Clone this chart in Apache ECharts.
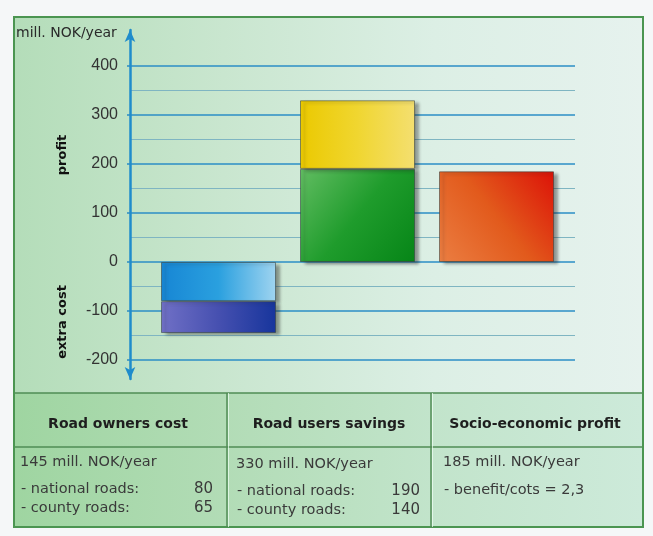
<!DOCTYPE html>
<html>
<head>
<meta charset="utf-8">
<script src="https://cdn.jsdelivr.net/npm/echarts@6/dist/echarts.min.js"></script>
<style>
html,body{margin:0;padding:0;background:#f5f7f8;}
#c{width:653px;height:536px;}
</style>
</head>
<body>
<div id="c"></div>
<script>
// ---- data ----
var categories = ['Road owners cost', 'Road users savings', 'Socio-economic profit'];
var nationalRoads = [-80, 190, null];   // lower segment of each stacked bar
var countyRoads = [-65, 140, null];     // upper segment
var socioProfit = [null, null, 185];
var yTicks = [-200, -100, 0, 100, 200, 300, 400];
var unitLabel = 'mill. NOK/year';
var profitLabel = 'profit';
var costLabel = 'extra cost';
var tableTotals = ['145 mill. NOK/year', '330 mill. NOK/year', '185 mill. NOK/year'];
var tableRowLabels = ['- national roads:', '- county roads:'];
var tableRowValues = [['80', '65'], ['190', '140'], null];
var ratioText = '- benefit/cots = 2,3';

// ---- styles ----
function grad(x, y, x2, y2, stops) {
  return {type: 'linear', x: x, y: y, x2: x2, y2: y2,
    colorStops: stops.map(function (c, i) { return {offset: i / (stops.length - 1), color: c}; })};
}
var nationalColors = [grad(0, 0, 1, 0, ['#1786d4', '#2aa0df', '#9fd4f0']),
                      grad(0, 0, 1, 1, ['#62bd62', '#1f9c2c', '#068517'])];
var countyColors = [grad(0, 0, 1, 0, ['#7070c6', '#4650b0', '#17359c']),
                    grad(0, 0, 1, 0, ['#ebc900', '#f0d630', '#f4df70'])];
var socioColors = [null, null, grad(0, 1, 1, 0, ['#eb7e42', '#e25a1c', '#dc1208'])];

var barBase = {
  borderColor: 'rgba(50,60,60,0.55)', borderWidth: 1,
  shadowColor: 'rgba(40,40,40,0.45)', shadowBlur: 3, shadowOffsetX: 4, shadowOffsetY: 2
};
function seriesData(vals, colors) {
  return vals.map(function (v, i) {
    if (v === null) return '-';
    return {value: v, itemStyle: Object.assign({color: colors[i]}, barBase)};
  });
}

var font = 'DejaVu Sans, Arial, sans-serif';
var txt = '#3a3a3a';

// ---- table graphics ----
var colX = [15, 227, 431, 643];
var tableTop = 393, headDiv = 447, tableBottom = 527;
var g = [];
g.push({type: 'rect', z: -20, shape: {x: 14, y: 17, width: 629, height: 510},
  style: {fill: grad(0, 0, 1, 0, ['#b4ddb9', '#c9e6cf', '#dcefe5', '#e6f2ee']), stroke: '#4b9551', lineWidth: 2}});
g.push({type: 'rect', z: -19, shape: {x: 15, y: tableTop, width: 627, height: tableBottom - tableTop},
  style: {fill: grad(0, 0, 1, 0, ['#9fd5a1', '#b2dcb6', '#c2e4cb', '#cdeada']), stroke: null}});
g.push({type: 'line', z: 5, shape: {x1: 15, y1: tableTop, x2: 642, y2: tableTop}, style: {stroke: '#4f8c55', lineWidth: 1.5}});
g.push({type: 'line', z: 5, shape: {x1: 15, y1: headDiv, x2: 642, y2: headDiv}, style: {stroke: '#4f8c55', lineWidth: 1.5}});
g.push({type: 'line', z: 5, shape: {x1: 15, y1: tableBottom, x2: 642, y2: tableBottom}, style: {stroke: '#4b9551', lineWidth: 2}});
[1, 2].forEach(function (k) {
  g.push({type: 'line', z: 5, shape: {x1: colX[k], y1: tableTop, x2: colX[k], y2: tableBottom}, style: {stroke: '#4f8c55', lineWidth: 1.5}});
  g.push({type: 'line', z: 5, shape: {x1: colX[k] + 1.5, y1: tableTop, x2: colX[k] + 1.5, y2: tableBottom}, style: {stroke: 'rgba(240,255,245,0.7)', lineWidth: 1}});
});
var headCx = [118, 329, 535];
categories.forEach(function (c, i) {
  g.push({type: 'text', z: 6, x: headCx[i], y: 424, style: {text: c, fill: '#1e1e1e', font: 'bold 14px ' + font, align: 'center', verticalAlign: 'middle'}});
});
var totX = [20, 236, 443];
var totY = [462, 464, 462];
var bodyFont = '14.5px ' + font;
tableTotals.forEach(function (t, i) {
  g.push({type: 'text', z: 6, x: totX[i], y: totY[i], style: {text: t, fill: txt, font: bodyFont, verticalAlign: 'middle'}});
});
var rowY = [[489, 508], [491, 510]];
var numRight = [213, 420];
[0, 1].forEach(function (c) {
  tableRowLabels.forEach(function (lab, r) {
    g.push({type: 'text', z: 6, x: totX[c] + 1, y: rowY[c][r], style: {text: lab, fill: txt, font: bodyFont, verticalAlign: 'middle'}});
    g.push({type: 'text', z: 6, x: numRight[c], y: rowY[c][r], style: {text: tableRowValues[c][r], fill: txt, font: '15px ' + font, align: 'right', verticalAlign: 'middle'}});
  });
});
g.push({type: 'text', z: 6, x: 444, y: 490, style: {text: ratioText, fill: txt, font: bodyFont, verticalAlign: 'middle'}});
// axis texts
g.push({type: 'text', z: 6, x: 16, y: 33, style: {text: unitLabel, fill: '#2a2a2a', font: '14px ' + font, verticalAlign: 'middle'}});
g.push({type: 'text', z: 6, x: 63, y: 155, rotation: Math.PI / 2, style: {text: profitLabel, fill: '#111', font: 'bold 13px ' + font, align: 'center', verticalAlign: 'middle'}});
g.push({type: 'text', z: 6, x: 63, y: 322, rotation: Math.PI / 2, style: {text: costLabel, fill: '#111', font: 'bold 13px ' + font, align: 'center', verticalAlign: 'middle'}});

var yMin = yTicks[0], yMax = yTicks[yTicks.length - 1];
var chart = echarts.init(document.getElementById('c'), null, {renderer: 'canvas'});
chart.setOption({
  animation: false,
  backgroundColor: 'transparent',
  graphic: g,
  grid: [
    {left: 149, right: 87, top: 66, bottom: 176},   // bars
    {left: 130, right: 78, top: 66, bottom: 176},   // gridlines + labels
    {left: 130, right: 78, top: 30, bottom: 157}    // arrowed axis line
  ],
  xAxis: [
    {type: 'category', gridIndex: 0, data: categories, show: false},
    {type: 'value', gridIndex: 1, min: 0, max: 1, show: false},
    {type: 'value', gridIndex: 2, min: 0, max: 1, show: false}
  ],
  yAxis: [
    {type: 'value', gridIndex: 0, min: yMin, max: yMax, interval: 100, show: false, splitLine: {show: false}},
    {type: 'value', gridIndex: 1, min: yMin, max: yMax, interval: 100,
      axisLine: {show: false},
      axisTick: {show: true, length: 3, lineStyle: {color: '#2a8cc4', width: 1.5}},
      axisLabel: {margin: 12, color: '#333', fontSize: 16, fontFamily: 'Liberation Sans, Arial, sans-serif'},
      splitLine: {show: true, lineStyle: {color: '#2b8ec6', width: 1.6}},
      minorTick: {show: false, splitNumber: 2},
      minorSplitLine: {show: true, lineStyle: {color: '#7fb5c2', width: 1}}
    },
    {type: 'value', gridIndex: 2, min: 0, max: 1, splitLine: {show: false}, axisTick: {show: false}, axisLabel: {show: false},
      axisLine: {show: true, symbol: ['arrow', 'arrow'], symbolSize: [8, 12], lineStyle: {color: '#1f8ccb', width: 2.5}}
    }
  ],
  series: [
    {type: 'bar', name: 'national roads', stack: 's', barWidth: 115, z: 3, data: seriesData(nationalRoads, nationalColors)},
    {type: 'bar', name: 'county roads', stack: 's', barWidth: 115, z: 3, data: seriesData(countyRoads, countyColors)},
    {type: 'bar', name: 'socio-economic profit', stack: 's', barWidth: 115, z: 3, data: seriesData(socioProfit, socioColors)}
  ]
});
</script>
</body>
</html>
